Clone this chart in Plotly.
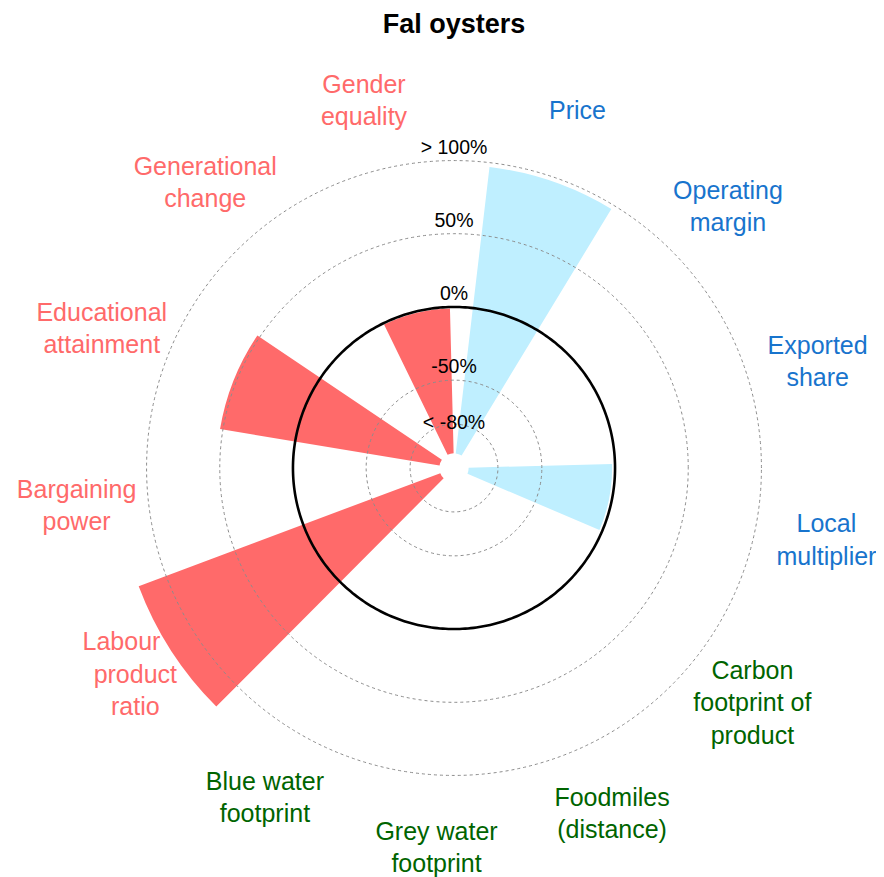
import numpy as np
import plotly.graph_objects as go

categories = [
    "Price", "Operating margin", "Exported share", "Local multiplier",
    "Carbon footprint of product", "Foodmiles (distance)", "Grey water footprint",
    "Blue water footprint", "Labour product ratio", "Bargaining power",
    "Educational attainment", "Generational change", "Gender equality",
]
NBSP = "\u00a0"
label_text = [
    "Price", "Operating<br>margin", "Exported<br>share", "Local<br>multiplier",
    "Carbon<br>footprint of<br>product", "Foodmiles<br>(distance)", "Grey water<br>footprint",
    "Blue water<br>footprint", "Labour" + NBSP * 4 + "<br>product<br>ratio", "Bargaining<br>power",
    "Educational<br>attainment", "Generational<br>change", "Gender<br>equality",
]
groups = ["econ"] * 4 + ["env"] * 4 + ["social"] * 5
# % change; None = no data
values = [97, None, None, -2, None, None, None, None, 120, None, 52, None, -1]

tick_vals = [-80, -50, 0, 50, 100]
tick_text = ["< -80%", "-50%", "0%", "50%", "> 100%"]
tick_label_r = [-80, -42, 8, 58, 108]
label_r = 149

bar_colors = {"econ": "#BFEFFF", "env": "#90EE90", "social": "#FF6A6A"}
label_colors = {"econ": "#1874CD", "env": "#006400", "social": "#FF6A6A"}

BASE = -100
R_RANGE = [-110, 160]
PX_PER_UNIT = 1.464
FONT = "Arial, Liberation Sans, sans-serif"

W, H = 884, 877
# page has an 8px body margin, so the figure sits offset by that much
cx, cy = 446, 460
rad = PX_PER_UNIT * (R_RANGE[1] - R_RANGE[0])
dom_x = [(cx - rad) / W, (cx + rad) / W]
dom_y = [(H - cy - rad) / H, (H - cy + rad) / H]
# category labels sit a touch lower than the rings
dom_y_labels = [d - 3 / H for d in dom_y]

present = [i for i, v in enumerate(values) if v is not None]

fig = go.Figure()

# bars
fig.add_trace(go.Barpolar(
    theta=[categories[i] for i in present],
    r=[values[i] - BASE for i in present],
    base=BASE,
    width=0.9,
    marker=dict(color=[bar_colors[groups[i]] for i in present], line=dict(width=0)),
    subplot="polar",
    hoverinfo="skip",
))

# dotted rings, zero ring and radial labels on an overlay with a plain degree axis
ring = np.linspace(0, 360, 361)
fig.add_trace(go.Scatterpolar(
    theta=ring, r=[0] * len(ring), mode="lines",
    line=dict(color="black", width=2.6),
    subplot="polar2", hoverinfo="skip",
))
fig.add_trace(go.Scatterpolar(
    theta=[0] * len(tick_vals), r=tick_label_r, mode="text", text=tick_text,
    textposition="middle center",
    textfont=dict(family=FONT, size=19.5, color="black"),
    cliponaxis=False, subplot="polar2", hoverinfo="skip",
))

# category labels
fig.add_trace(go.Scatterpolar(
    theta=categories,
    r=[label_r] * len(categories),
    mode="text",
    text=label_text,
    textposition="middle center",
    textfont=dict(family=FONT, size=25, color=[label_colors[g] for g in groups]),
    cliponaxis=False,
    subplot="polar3",
    hoverinfo="skip",
))

cat_axis = dict(type="category", categoryarray=categories, period=13.2,
                rotation=71, direction="clockwise", showgrid=False,
                showline=False, showticklabels=False, ticks="")
hidden_radial = dict(range=R_RANGE, showgrid=False, showline=False,
                     showticklabels=False, ticks="")
clear = "rgba(0,0,0,0)"

fig.update_layout(
    width=W, height=H, autosize=False,
    margin=dict(l=0, r=0, t=0, b=0),
    paper_bgcolor="white",
    showlegend=False,
    title=dict(text="<b>Fal oysters</b>", x=cx / W, xanchor="center",
               y=1 - 16 / H, yanchor="middle", yref="container",
               font=dict(family=FONT, size=27, color="black")),
    polar=dict(domain=dict(x=dom_x, y=dom_y), bgcolor=clear,
               angularaxis=cat_axis, radialaxis=hidden_radial),
    polar2=dict(
        domain=dict(x=dom_x, y=dom_y), bgcolor=clear,
        angularaxis=dict(type="linear", rotation=90, direction="clockwise",
                         showgrid=False, showline=False, showticklabels=False, ticks=""),
        radialaxis=dict(range=R_RANGE, tickmode="array",
                        tickvals=[v for v in tick_vals if v != 0],
                        showgrid=True, gridcolor="#8c8c8c", gridwidth=1, griddash="dot",
                        showline=False, showticklabels=False, ticks=""),
    ),
    polar3=dict(domain=dict(x=dom_x, y=dom_y_labels), bgcolor=clear,
                angularaxis=cat_axis, radialaxis=hidden_radial),
)

fig.write_html("out.html")
